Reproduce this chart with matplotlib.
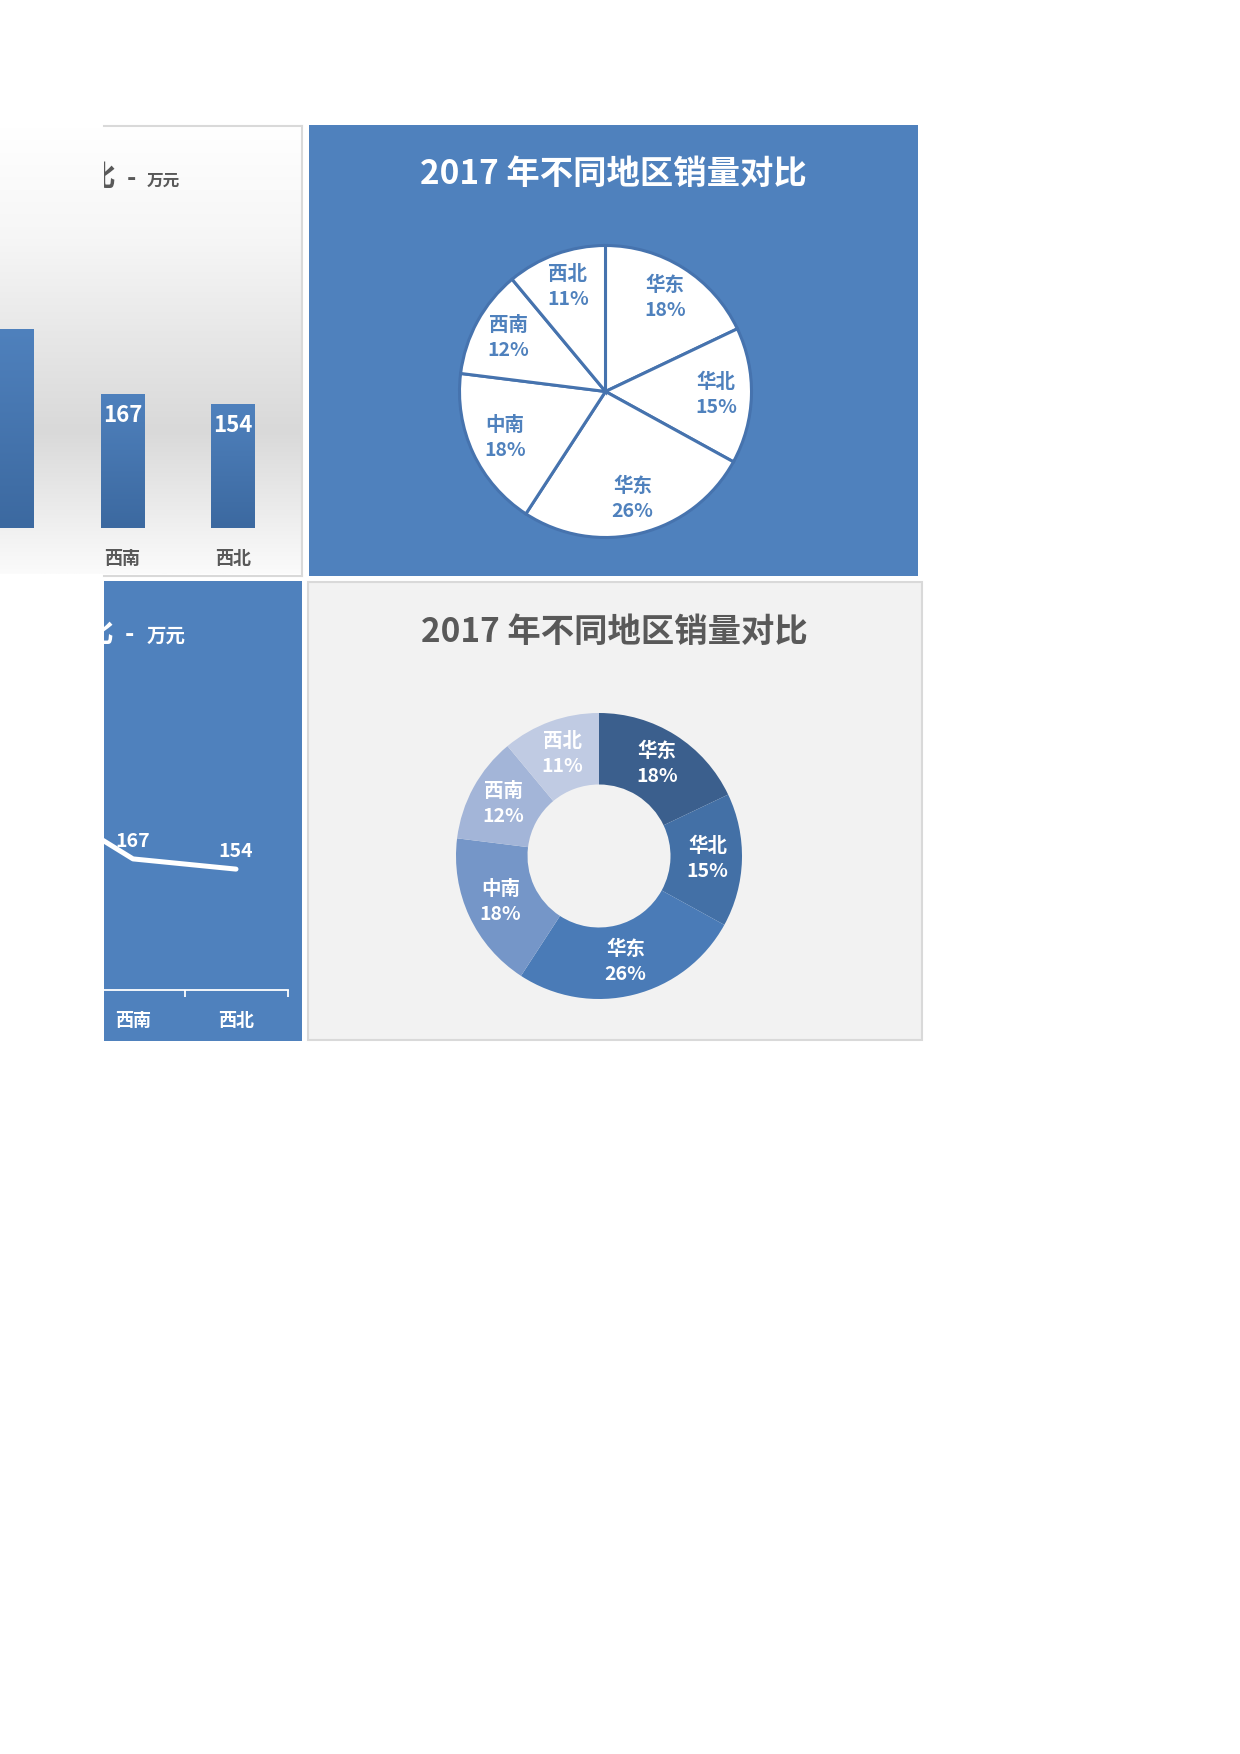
import numpy as np
import matplotlib
matplotlib.use('Agg')
import matplotlib.pyplot as plt
from matplotlib.colors import LinearSegmentedColormap
from matplotlib.patches import Rectangle
from matplotlib.lines import Line2D
from matplotlib.transforms import Bbox, TransformedBbox

plt.rcParams['font.family'] = ['Noto Sans CJK SC', 'DejaVu Sans']

# data
regions = ['华东', '华北', '华东', '中南', '西南', '西北']
sales = [250, 210, 365, 248, 167, 154]
title = '2017 年不同地区销量对比'
unit = '万元'
donut_colors = ['#3B5F8D', '#4370A6', '#4A7BB7', '#7596C8', '#A3B5D8', '#C0CBE3']

W, H = 1240, 1754
BLUE = '#4F81BD'
GRAY_TXT = '#595959'
CUT_X = 104  # the sheet is cut here: no text left of it


def rect(x0, y0, x1, y1):
    return [x0 / W, 1 - y1 / H, (x1 - x0) / W, (y1 - y0) / H]


def fx(x):
    return x / W


def fy(y):
    return 1 - y / H


def visible(ax, i):
    return ax.transData.transform((i, 0))[0] > CUT_X


fig = plt.figure(figsize=(W / 100, H / 100), dpi=100)
fig.patch.set_facecolor('white')

clip_right = TransformedBbox(Bbox.from_extents(CUT_X / W, 0, 1, 1), fig.transFigure)

# ---------- top-left: column chart ----------
bg = fig.add_axes(rect(0, 127, 302, 574), zorder=0)
grad_cmap = LinearSegmentedColormap.from_list(
    'bg', [(0, '#FFFFFF'), (0.25, '#F6F6F6'), (0.68, '#D9D9D9'), (1, '#FBFBFB')])
bg.imshow(np.linspace(0, 1, 256).reshape(-1, 1), cmap=grad_cmap, aspect='auto',
          extent=[0, 1, 0, 1], origin='upper')
bg.axis('off')

for (xa, ya), (xb, yb) in [((104, 126), (302, 126)), ((302, 126), (302, 576)),
                           ((104, 576), (302, 576))]:
    fig.add_artist(Line2D([fx(xa), fx(xb)], [fy(ya), fy(yb)], color='#D9D9D9',
                          lw=1.5, zorder=5))

ax1 = fig.add_axes(rect(-374.75, 207, 288.25, 528), zorder=1)
ax1.patch.set_alpha(0)
x = np.arange(len(regions))
bars = ax1.bar(x, sales, width=0.39, color=BLUE, zorder=2)
bar_cmap = LinearSegmentedColormap.from_list('bar', ['#3C69A0', '#4F81BD'])
for b in bars:
    im = ax1.imshow(np.linspace(0, 1, 128).reshape(-1, 1), cmap=bar_cmap, aspect='auto',
                    origin='lower',
                    extent=[b.get_x(), b.get_x() + b.get_width(), 0, b.get_height()],
                    zorder=3)
    im.set_clip_path(b)
ax1.set_xlim(-0.5, 5.5)
ax1.set_ylim(0, 400)
ax1.axis('off')
for i, v in enumerate(sales):
    if not visible(ax1, i):
        continue
    ax1.annotate(str(v), (i, v), xytext=(0, -10), textcoords='offset pixels',
                 ha='center', va='top', color='white', fontsize=16,
                 fontweight='bold', zorder=4)
    ax1.annotate(regions[i], (i, 0), xytext=(0, -30), textcoords='offset pixels',
                 ha='center', va='center', color=GRAY_TXT, fontsize=13,
                 fontweight='bold')

for txt, xx, ha, fs in [(title, 116, 'right', 21), ('-', 131, 'center', 18),
                        (unit, 147, 'left', 12)]:
    t = fig.text(fx(xx), fy(186), txt, ha=ha, va='baseline', color=GRAY_TXT,
                 fontsize=fs, fontweight='bold')
    t.set_clip_box(clip_right)
    t.set_clip_on(True)

# ---------- bottom-left: line chart ----------
fig.add_artist(Rectangle((fx(104), fy(1041)), (302 - 104) / W, (1041 - 581) / H,
                         transform=fig.transFigure, facecolor=BLUE, edgecolor='none',
                         zorder=-1))
ax2 = fig.add_axes(rect(-330.5, 676, 287.5, 990), zorder=1)
ax2.patch.set_alpha(0)
ax2.plot(x, sales, color='white', lw=3.6, solid_capstyle='round', solid_joinstyle='round')
ax2.set_xlim(-0.5, 5.5)
ax2.set_ylim(0, 400)
for s in ['top', 'right', 'left']:
    ax2.spines[s].set_visible(False)
ax2.spines['bottom'].set_color('white')
ax2.spines['bottom'].set_linewidth(1.3)
ax2.set_yticks([])
ax2.set_xticks(np.arange(-0.5, 6, 1))
ax2.set_xticklabels([])
ax2.tick_params(axis='x', direction='out', length=5, width=1.3, color='white')
for i, v in enumerate(sales):
    if not visible(ax2, i):
        continue
    ax2.annotate(str(v), (i, v), xytext=(0, 8), textcoords='offset pixels',
                 ha='center', va='bottom', color='white', fontsize=14,
                 fontweight='bold')
    ax2.annotate(regions[i], (i, 0), xytext=(0, -30), textcoords='offset pixels',
                 ha='center', va='center', color='white', fontsize=13, fontweight='bold')

for txt, xx, ha, fs in [(title, 114, 'right', 21), ('-', 129, 'center', 18),
                        (unit, 147, 'left', 14)]:
    t = fig.text(fx(xx), fy(642), txt, ha=ha, va='baseline', color='white',
                 fontsize=fs, fontweight='bold')
    t.set_clip_box(clip_right)
    t.set_clip_on(True)

# white mask left of the line panel
fig.add_artist(Rectangle((0, fy(1045)), 104 / W, (1045 - 578) / H,
                         transform=fig.transFigure, facecolor='white', edgecolor='none',
                         zorder=10))

# ---------- top-right: pie ----------
fig.add_artist(Rectangle((fx(309), fy(576)), (918 - 309) / W, (576 - 125) / H,
                         transform=fig.transFigure, facecolor=BLUE, edgecolor='none',
                         zorder=-1))
fig.text(fx(613), fy(174), title, ha='center', va='center', color='white',
         fontsize=24, fontweight='bold')
r = 146
ax3 = fig.add_axes(rect(605.5 - r, 391.5 - r, 605.5 + r, 391.5 + r))
wedges, _, autotexts = ax3.pie(sales, startangle=90, counterclock=False,
                               colors=['white'] * len(sales), autopct='%1.0f%%',
                               pctdistance=0.76,
                               wedgeprops=dict(edgecolor='#4673AE', linewidth=2.2))
for name, t in zip(regions, autotexts):
    t.set_text(f'{name}\n{t.get_text()}')
    t.set_color(BLUE)
    t.set_fontsize(14)
    t.set_fontweight('bold')
    t.set_linespacing(1.4)
for w in wedges:
    w.set_clip_on(False)
ax3.set_xlim(-1, 1)
ax3.set_ylim(-1, 1)

# ---------- bottom-right: donut ----------
fig.add_artist(Rectangle((fx(308), fy(1040)), (922 - 308) / W, (1040 - 582) / H,
                         transform=fig.transFigure, facecolor='#F2F2F2',
                         edgecolor='#D9D9D9', linewidth=1.5, zorder=-1))
fig.text(fx(614), fy(632), title, ha='center', va='center', color=GRAY_TXT,
         fontsize=24, fontweight='bold')
r = 143
ax4 = fig.add_axes(rect(599 - r, 856 - r, 599 + r, 856 + r))
wedges, _, autotexts = ax4.pie(sales, startangle=90, counterclock=False,
                               colors=donut_colors, autopct='%1.0f%%', pctdistance=0.76,
                               wedgeprops=dict(width=0.5, edgecolor='none'))
for name, t in zip(regions, autotexts):
    t.set_text(f'{name}\n{t.get_text()}')
    t.set_color('white')
    t.set_fontsize(14)
    t.set_fontweight('bold')
    t.set_linespacing(1.4)
ax4.set_xlim(-1, 1)
ax4.set_ylim(-1, 1)

fig.savefig('out.png', dpi=100, facecolor='white')
